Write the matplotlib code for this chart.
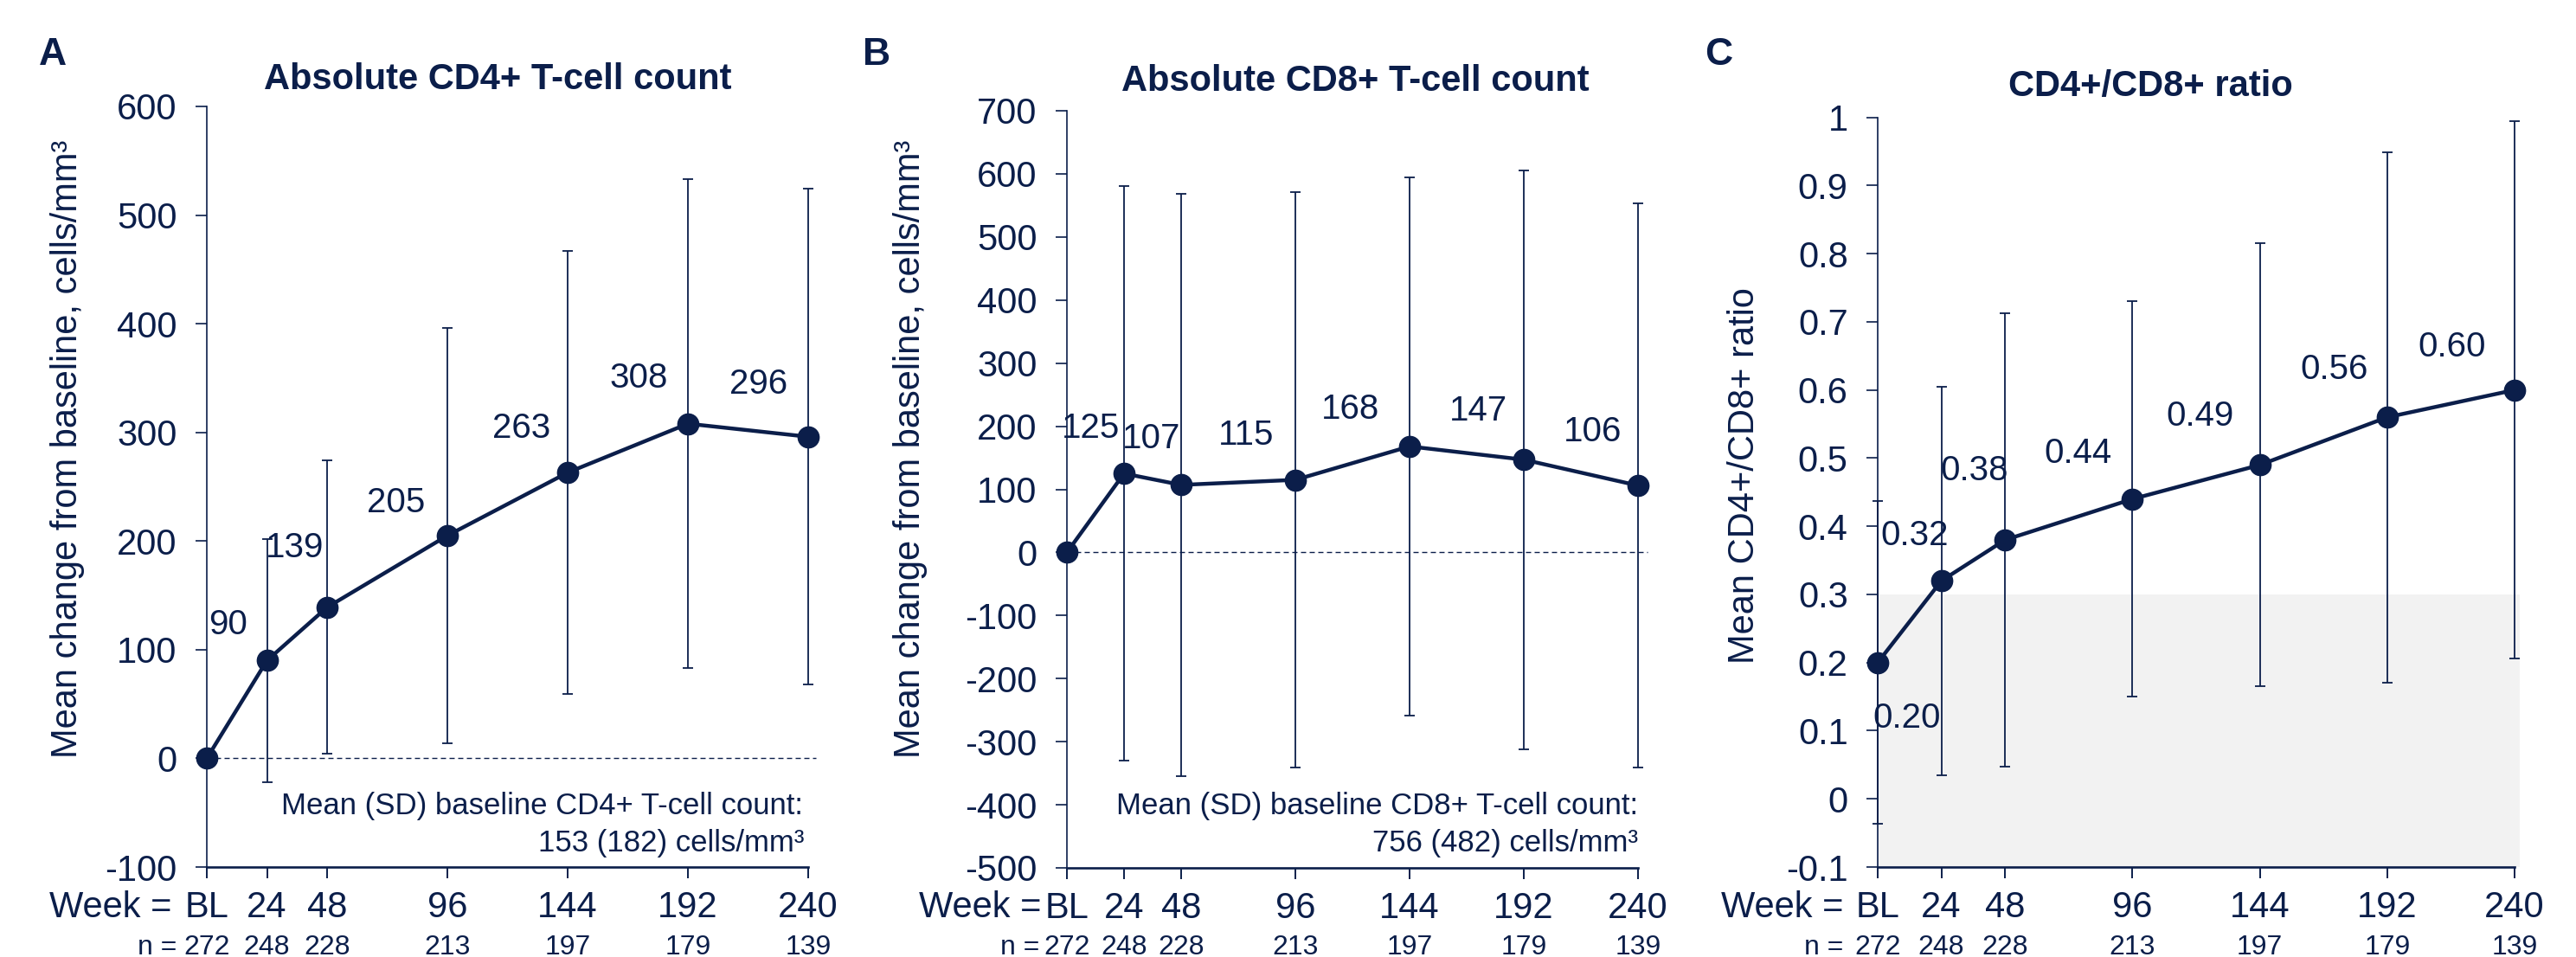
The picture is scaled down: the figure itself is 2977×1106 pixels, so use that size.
import matplotlib
matplotlib.use('Agg')
import matplotlib.pyplot as plt
from matplotlib.transforms import blended_transform_factory
from matplotlib.ticker import FuncFormatter
import numpy as np

# ---------------- data ----------------
weeks = [0, 24, 48, 96, 144, 192, 240]
week_labels = ['BL', '24', '48', '96', '144', '192', '240']
n_patients = [272, 248, 228, 213, 197, 179, 139]

cd4_mean = [0, 90, 139, 205, 263, 308, 296]
cd4_sd = [0, 112, 135, 191, 204, 225, 228]

cd8_mean = [0, 125, 107, 115, 168, 147, 106]
cd8_sd = [0, 455, 462, 456, 427, 459, 447]

ratio_mean = [0.20, 0.32, 0.38, 0.44, 0.49, 0.56, 0.60]
ratio_sd = [0.237, 0.285, 0.333, 0.290, 0.325, 0.389, 0.394]

cd4_baseline_text = ['Mean (SD) baseline CD4+ T-cell count:', '153 (182) cells/mm\u00b3']
cd8_baseline_text = ['Mean (SD) baseline CD8+ T-cell count:', '756 (482) cells/mm\u00b3']

# ---------------- style ----------------
W, H = 2977, 1106
NAVY = '#0b1e4a'
GRAY = '#f2f2f2'
plt.rcParams['font.family'] = ['Liberation Sans', 'DejaVu Sans']

fig = plt.figure(figsize=(W / 100, H / 100), dpi=100)


def fx(x):
    return x / W


def fy(y):
    return 1 - y / H


def make_axes(left, right, top, bottom):
    return fig.add_axes([fx(left), fy(bottom), (right - left) / W, (bottom - top) / H])


axA = make_axes(239, 934, 123, 1002)
axB = make_axes(1233, 1893, 128, 1003)
axC = make_axes(2170, 2906, 135.7, 1002)


def style_axes(ax, ylim, yticks, fmt):
    ax.set_xlim(0, 240)
    ax.set_ylim(*ylim)
    ax.set_yticks(yticks)
    ax.yaxis.set_major_formatter(FuncFormatter(fmt))
    ax.set_xticks(weeks, week_labels)
    for side in ('top', 'right'):
        ax.spines[side].set_visible(False)
    ax.spines['left'].set_color(NAVY)
    ax.spines['left'].set_linewidth(1.2)
    ax.spines['bottom'].set_color(NAVY)
    ax.spines['bottom'].set_linewidth(1.9)
    ax.tick_params(axis='y', direction='out', length=9.2, width=1.2,
                   colors=NAVY, labelsize=30, pad=15.5)
    ax.tick_params(axis='x', direction='out', length=9.2, width=1.4,
                   colors=NAVY, labelsize=30, pad=10.5)
    ax.patch.set_alpha(0)


def draw_series(ax, means, sds, with_bl_err, labels, offsets):
    x = np.array(weeks)
    m = np.array(means)
    s = np.array(sds)
    idx = np.arange(len(x)) if with_bl_err else np.arange(1, len(x))
    eb = ax.errorbar(x[idx], m[idx], yerr=s[idx], fmt='none', ecolor=NAVY,
                     elinewidth=1.3, capsize=4.5, capthick=1.3, zorder=2)
    for art in list(eb.lines[1]) + list(eb.lines[2]):
        art.set_clip_on(False)
    ax.plot(x, m, '-o', color=NAVY, lw=3.2, ms=17.5, zorder=3, clip_on=False)
    for xv, yv, lab, off in zip(x, m, labels, offsets):
        if off is None:
            continue
        ax.annotate(lab, (xv, yv), xytext=(off[0], off[1] - 4),
                    textcoords='offset pixels', ha='center', va='center',
                    fontsize=29, color=NAVY, zorder=4)


def week_rows(ax, week_right, n_right):
    fig.text(fx(week_right), fy(1060), 'Week =', ha='right', va='baseline',
             fontsize=30, color=NAVY)
    fig.text(fx(n_right), fy(1103), 'n =', ha='right', va='baseline',
             fontsize=23, color=NAVY)
    tr = blended_transform_factory(ax.transData, fig.transFigure)
    for w, n in zip(weeks, n_patients):
        ax.text(w, fy(1103), str(n), transform=tr, ha='center', va='baseline',
                fontsize=23, color=NAVY)


int_fmt = lambda v, p: f'{v:.0f}'
ratio_fmt = lambda v, p: f'{round(v, 1):g}'

# ---------------- Panel A ----------------
style_axes(axA, (-100, 600), np.arange(-100, 601, 100), int_fmt)
axA.plot([0, 243], [0, 0], ls=(0, (4.3, 2.9)), lw=1.0, color=NAVY,
         clip_on=False, zorder=1)
offA = [None, (-45, 45), (-37, 73), (-59, 42), (-53, 55), (-57, 57), (-57, 65)]
draw_series(axA, cd4_mean, cd4_sd, False, [f'{v}' for v in cd4_mean], offA)
axA.text(0.991, (1002 - 941) / 879, cd4_baseline_text[0], transform=axA.transAxes,
         ha='right', va='baseline', fontsize=25, color=NAVY)
axA.text(0.993, (1002 - 984) / 879, cd4_baseline_text[1], transform=axA.transAxes,
         ha='right', va='baseline', fontsize=25, color=NAVY)
week_rows(axA, 198, 204)

# ---------------- Panel B ----------------
style_axes(axB, (-500, 700), np.arange(-500, 701, 100), int_fmt)
axB.plot([0, 244], [0, 0], ls=(0, (4.3, 2.9)), lw=1.0, color=NAVY,
         clip_on=False, zorder=1)
offB = [None, (-39, 56), (-34, 57), (-57, 56), (-69, 47), (-53, 60), (-52, 66)]
draw_series(axB, cd8_mean, cd8_sd, False, [f'{v}' for v in cd8_mean], offB)
axB.text(1.0, (1003 - 941) / 875, cd8_baseline_text[0], transform=axB.transAxes,
         ha='right', va='baseline', fontsize=25, color=NAVY)
axB.text(1.0, (1003 - 984) / 875, cd8_baseline_text[1], transform=axB.transAxes,
         ha='right', va='baseline', fontsize=25, color=NAVY)
week_rows(axB, 1203, 1201)

# ---------------- Panel C ----------------
style_axes(axC, (-0.1, 1.0), np.round(np.arange(-0.1, 1.001, 0.1), 1), ratio_fmt)
axC.fill_between([0, 242], -0.1, 0.3, color=GRAY, lw=0, zorder=0, clip_on=False)
offC = [(34, -60), (-31, 56), (-36, 84), (-63, 57), (-69, 60), (-61, 59), (-72, 54)]
draw_series(axC, ratio_mean, ratio_sd, True, [f'{v:.2f}' for v in ratio_mean], offC)
week_rows(axC, 2130, 2130)

# ---------------- titles, letters, y labels ----------------
for x, y, t in [(575, 103, 'Absolute CD4+ T-cell count'),
                (1566, 105, 'Absolute CD8+ T-cell count'),
                (2485, 111, 'CD4+/CD8+ ratio')]:
    fig.text(fx(x), fy(y), t, ha='center', va='baseline', fontsize=30,
             fontweight='bold', color=NAVY)

for x, t in [(61, 'A'), (1013, 'B'), (1986, 'C')]:
    fig.text(fx(x), fy(75), t, ha='center', va='baseline', fontsize=32,
             fontweight='bold', color=NAVY)

for x, y, t in [(78, 519, 'Mean change from baseline, cells/mm\u00b3'),
                (1052, 519, 'Mean change from baseline, cells/mm\u00b3'),
                (2016, 550, 'Mean CD4+/CD8+ ratio')]:
    fig.text(fx(x), fy(y), t, ha='center', va='center', rotation=90,
             fontsize=30, color=NAVY)

fig.savefig('out.png', dpi=100, facecolor='white')
